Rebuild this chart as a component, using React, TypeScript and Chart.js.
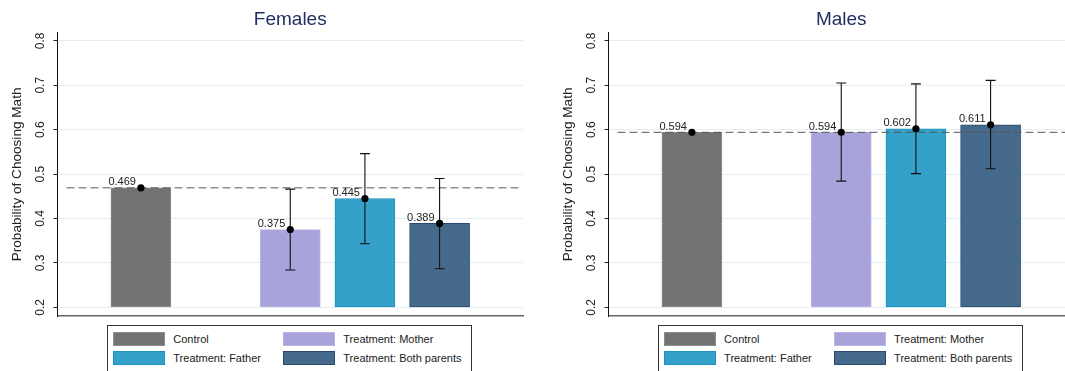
import React, { useEffect, useRef } from 'react';
import { Chart, registerables } from 'chart.js';

Chart.register(...registerables);

// ---------- data ----------
const categories = ['Control', 'Treatment: Mother', 'Treatment: Father', 'Treatment: Both parents'];
const categorySlots = [0, 2, 3, 4];

const femalesMean = [0.469, 0.375, 0.445, 0.389];
const femalesLow = [null, 0.284, 0.343, 0.287];
const femalesHigh = [null, 0.466, 0.546, 0.490];

const malesMean = [0.594, 0.594, 0.602, 0.611];
const malesLow = [null, 0.484, 0.501, 0.512];
const malesHigh = [null, 0.705, 0.703, 0.711];

const yTicks = [0.2, 0.3, 0.4, 0.5, 0.6, 0.7, 0.8];
const yTickLabels = ['0.2', '0.3', '0.4', '0.5', '0.6', '0.7', '0.8'];

// ---------- styles ----------
const FONT = "'Liberation Sans', Arial, Helvetica, sans-serif";
const fillColors = ['#737373', '#a8a3db', '#33a1c9', '#466a8c'];
const borderColors = ['#8c8c8c', '#b9b5e3', '#1c92c2', '#28496e'];
const CANVAS_W = 560;
const CANVAS_H = 371;
const PLOT_RIGHT = 523;
const PLOT_BOTTOM = 316;
const AXIS_W = 57.5;

const overlayPlugin = {
  id: 'overlay',
  afterDatasetDraw(chart: any, args: any, opts: any) {
    if (args.index !== 0) return;
    const { ctx, chartArea } = chart;
    const x = chart.scales.x;
    const y = chart.scales.y;
    ctx.save();
    // reference dashed line at control mean
    const yy = y.getPixelForValue(opts.means[0]);
    ctx.strokeStyle = '#555555';
    ctx.lineWidth = 1;
    ctx.setLineDash([8, 4]);
    ctx.beginPath();
    ctx.moveTo(chartArea.left + 9, yy);
    ctx.lineTo(chartArea.right - 2, yy);
    ctx.stroke();
    ctx.setLineDash([]);
    // error bars
    ctx.strokeStyle = '#111111';
    ctx.lineWidth = 1.1;
    opts.lows.forEach((lo: number | null, i: number) => {
      const hi = opts.highs[i];
      if (lo == null || hi == null) return;
      const px = x.getPixelForValue(categorySlots[i]);
      const pl = y.getPixelForValue(lo);
      const ph = y.getPixelForValue(hi);
      ctx.beginPath();
      ctx.moveTo(px, pl);
      ctx.lineTo(px, ph);
      ctx.moveTo(px - 5, pl);
      ctx.lineTo(px + 5, pl);
      ctx.moveTo(px - 5, ph);
      ctx.lineTo(px + 5, ph);
      ctx.stroke();
    });
    ctx.restore();
  },
  afterDatasetsDraw(chart: any, _args: any, opts: any) {
    const { ctx } = chart;
    const x = chart.scales.x;
    const y = chart.scales.y;
    ctx.save();
    ctx.font = `11px ${FONT}`;
    ctx.fillStyle = '#222222';
    ctx.textAlign = 'right';
    ctx.textBaseline = 'alphabetic';
    opts.means.forEach((m: number, i: number) => {
      const px = x.getPixelForValue(categorySlots[i]);
      const py = y.getPixelForValue(m);
      ctx.fillText(m.toFixed(3), px - 5, py - 2.5);
    });
    ctx.restore();
  },
};

function Legend() {
  const items = categories.map((c, i) => {
    const col = i % 2;
    const row = Math.floor(i / 2);
    const swLeft = col === 0 ? 5 : 175;
    const top = row === 0 ? 5.4 : 24.4;
    return (
      <React.Fragment key={c}>
        <div
          style={{
            position: 'absolute',
            left: swLeft,
            top,
            width: 52,
            height: 14,
            boxSizing: 'border-box',
            background: fillColors[i],
            border: `1px solid ${borderColors[i]}`,
          }}
        />
        <div
          style={{
            position: 'absolute',
            left: swLeft + 60,
            top,
            height: 14,
            lineHeight: '14px',
            fontSize: 11,
            fontFamily: FONT,
            color: '#222',
            whiteSpace: 'nowrap',
          }}
        >
          {c}
        </div>
      </React.Fragment>
    );
  });
  return (
    <div
      style={{
        position: 'absolute',
        left: 107.3,
        top: 325.3,
        width: 365,
        height: 63,
        boxSizing: 'border-box',
        border: '1px solid #333',
        background: '#fff',
      }}
    >
      {items}
    </div>
  );
}

function Panel(props: { title: string; means: number[]; lows: (number | null)[]; highs: (number | null)[]; left: number }) {
  const ref = useRef<HTMLCanvasElement>(null);
  useEffect(() => {
    const chart = new Chart(ref.current as HTMLCanvasElement, {
      type: 'bar',
      data: {
        datasets: [
          {
            type: 'bar',
            data: categorySlots.map((s, i) => ({ x: s, y: props.means[i] })) as any,
            backgroundColor: fillColors,
            borderColor: borderColors,
            borderWidth: 1,
            borderSkipped: false,
            base: 0.2,
            barThickness: 60,
            order: 2,
          } as any,
          {
            type: 'scatter',
            data: categorySlots.map((s, i) => ({ x: s, y: props.means[i] })) as any,
            pointRadius: 3.6,
            pointBackgroundColor: '#000',
            pointBorderWidth: 0,
            order: 1,
          } as any,
        ],
      },
      options: {
        animation: false,
        responsive: false,
        events: [],
        layout: { padding: { left: 0, right: CANVAS_W - PLOT_RIGHT, top: 0, bottom: CANVAS_H - PLOT_BOTTOM } },
        plugins: {
          legend: { display: false },
          tooltip: { enabled: false },
          title: {
            display: true,
            text: props.title,
            fullSize: false,
            color: '#1f3063',
            font: { size: 19, family: FONT, weight: 'normal' },
            padding: { top: 8, bottom: 2 },
          },
          overlay: { means: props.means, lows: props.lows, highs: props.highs },
        } as any,
        scales: {
          x: {
            type: 'linear',
            offset: false,
            min: -1.117,
            max: 5.117,
            grid: { display: false, offset: false, drawTicks: false, tickLength: 0 },
            ticks: { display: false },
            border: { display: true, color: '#666', width: 1.5 },
          },
          y: {
            type: 'linear',
            min: 0.1805,
            max: 0.818,
            afterBuildTicks: (scale: any) => {
              scale.ticks = yTicks.map((v) => ({ value: v }));
            },
            afterFit: (scale: any) => {
              scale.width = AXIS_W;
            },
            ticks: {
              autoSkip: false,
              minRotation: 90,
              maxRotation: 90,
              crossAlign: 'center',
              padding: 4.6,
              color: '#222',
              font: { size: 12, family: FONT },
              callback: (_v: any, i: number) => yTickLabels[i],
            },
            grid: {
              color: '#e4eef0',
              lineWidth: 1,
              drawTicks: true,
              tickLength: 4,
              tickColor: '#222',
            },
            border: { display: true, color: '#111', width: 1 },
            title: {
              display: true,
              text: 'Probability of Choosing Math',
              color: '#222',
              font: { size: 13.6, family: FONT },
              padding: { top: 8.6, bottom: 0 },
            },
          },
        } as any,
      },
      plugins: [overlayPlugin],
    });
    return () => chart.destroy();
  }, []);
  return (
    <div style={{ position: 'absolute', left: props.left, top: 0, width: CANVAS_W, height: CANVAS_H }}>
      <canvas ref={ref} width={CANVAS_W} height={CANVAS_H} style={{ width: CANVAS_W, height: CANVAS_H, display: 'block' }} />
      <Legend />
    </div>
  );
}

export default function App() {
  return (
    <div
      style={{
        position: 'fixed',
        left: 0,
        top: 0,
        width: 1065,
        height: 371,
        overflow: 'hidden',
        background: '#fff',
      }}
    >
      <Panel title="Females" means={femalesMean} lows={femalesLow} highs={femalesHigh} left={0} />
      <Panel title="Males" means={malesMean} lows={malesLow} highs={malesHigh} left={550.8} />
    </div>
  );
}
